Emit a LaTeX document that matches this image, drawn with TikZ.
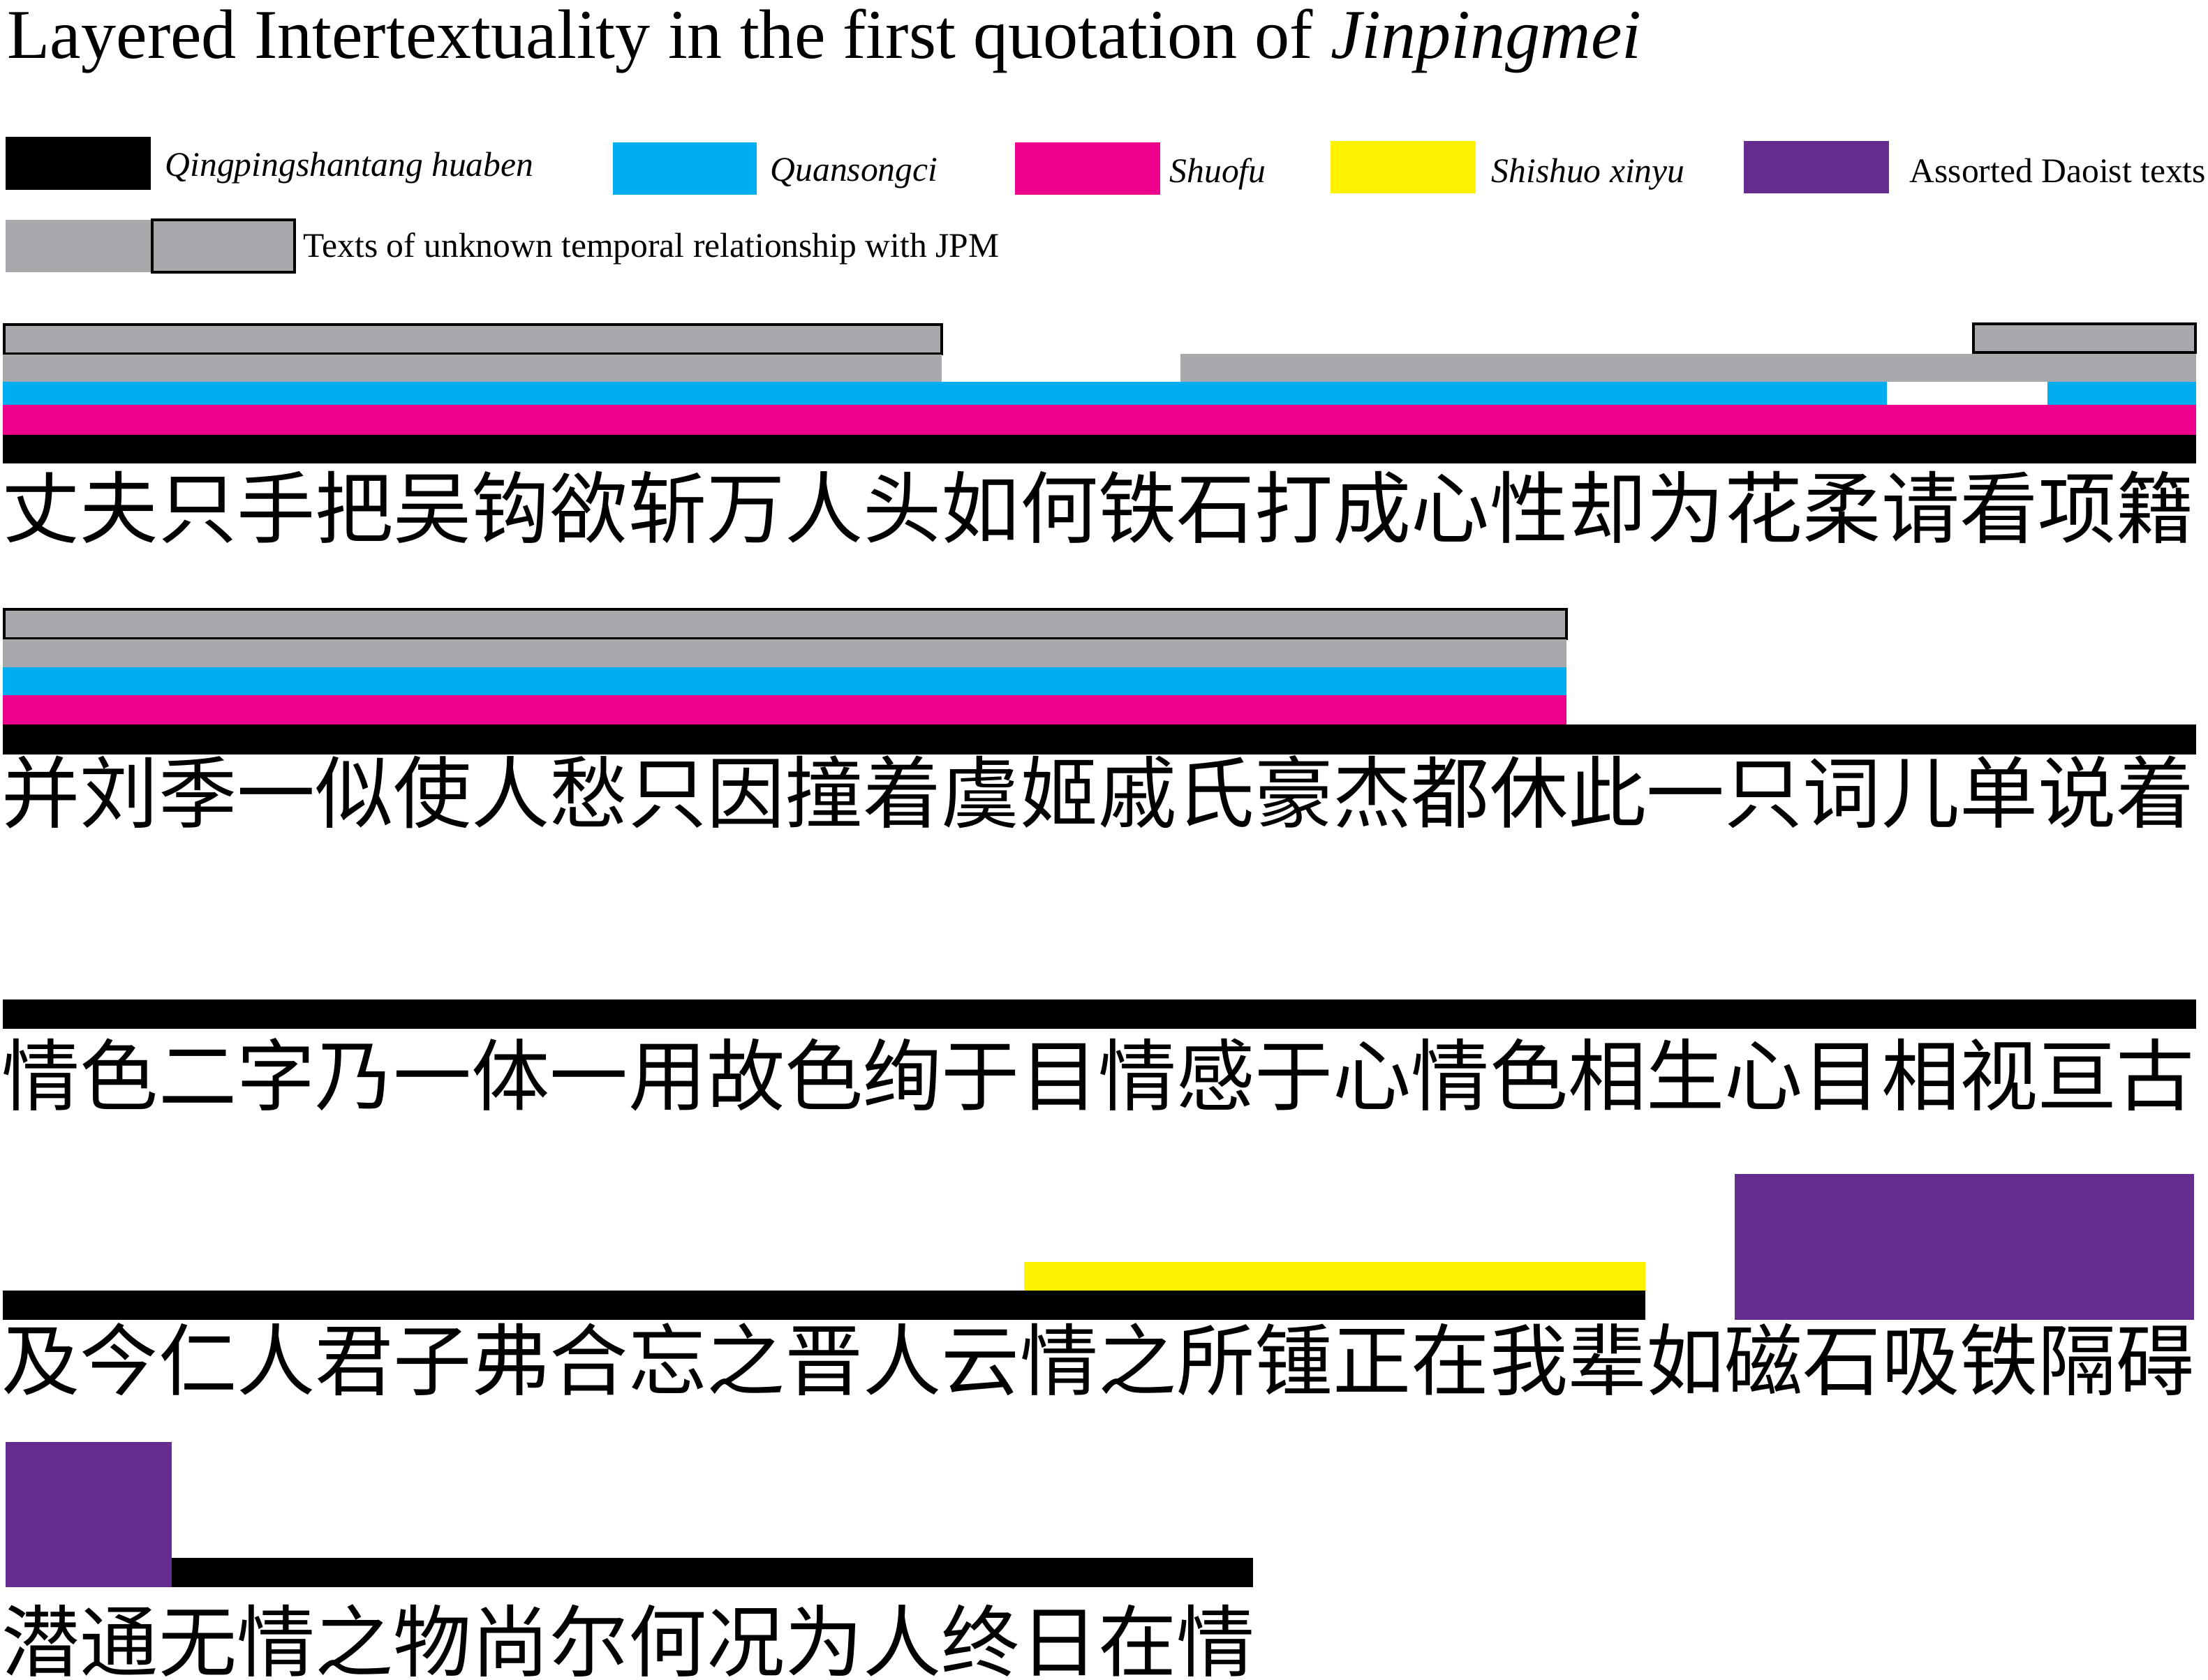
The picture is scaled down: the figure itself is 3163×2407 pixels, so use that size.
\documentclass[tikz,border=0pt]{standalone}
\usepackage{fontspec}
\setmainfont{Liberation Serif}
\newfontfamily\cjkfont{Noto Sans CJK SC}
\usepackage{tikz}
\definecolor{jpmGray}{RGB}{167,169,172}
\definecolor{jpmCyan}{RGB}{0,174,239}
\definecolor{jpmMagenta}{RGB}{236,0,140}
\definecolor{jpmYellow}{RGB}{255,242,0}
\definecolor{jpmPurple}{RGB}{102,45,145}

\begin{document}
\begin{tikzpicture}[
  x=0.01cm, y=-0.01cm,
  %% Plain coloured layer (1-arg: colour)
  layer/.style={fill=#1, draw=none},
  %% Grey layer with black frame (unknown dating)
  framed/.style={fill=jpmGray, draw=black, line width=1.3pt},
  %% Legend captions
  legtext/.style={anchor=base west, inner sep=0pt,
    font=\fontsize{14.1}{17}\selectfont},
  %% Quotation lines
  quote/.style={anchor=base west, inner sep=0pt,
    font=\fontsize{31.9}{38}\selectfont\cjkfont}
]
\useasboundingbox (0,0) rectangle (3163,2407);

%% ---- Title ----
\node[anchor=base west, inner sep=0pt, font=\fontsize{28.5}{34}\selectfont]
  (title) at (10,84)
  {Layered Intertextuality in the first quotation of \textit{Jinpingmei}};

%% ---- Legend ----
\fill[layer=black]      (8,196)    rectangle (216,272);
\fill[layer=jpmCyan]    (878,204)  rectangle (1084,279);
\fill[layer=jpmMagenta] (1454,204) rectangle (1662,279);
\fill[layer=jpmYellow]  (1906,202) rectangle (2114,277);
\fill[layer=jpmPurple]  (2498,202) rectangle (2706,277);
\fill[layer=jpmGray]    (8,315)    rectangle (216,390);
\filldraw[framed]       (218,315)  rectangle (422,390);

\node[legtext] (lgQing)  at (236,253)  {\textit{Qingpingshantang huaben}};
\node[legtext] (lgQuan)  at (1103,260) {\textit{Quansongci}};
\node[legtext] (lgShuo)  at (1675,262) {\textit{Shuofu}};
\node[legtext] (lgShi)   at (2136,262) {\textit{Shishuo xinyu}};
\node[legtext] (lgDao)   at (2735,262) {Assorted Daoist texts};
\node[legtext] (lgUnkn)  at (434,369)  {Texts of unknown temporal relationship with JPM};

%% ---- Line 1 layers ----
\filldraw[framed]       (6,465)    rectangle (1349,507);
\filldraw[framed]       (2827,464) rectangle (3145,505);
\fill[layer=jpmGray]    (4,508)    rectangle (1349,547);
\fill[layer=jpmGray]    (1691,507) rectangle (3146,547);
\fill[layer=jpmCyan]    (4,547)    rectangle (2703,580);
\fill[layer=jpmCyan]    (2933,547) rectangle (3146,580);
\fill[layer=jpmMagenta] (4,580)    rectangle (3146,623);
\fill[layer=black]      (4,623)    rectangle (3146,664);

%% ---- Line 2 layers ----
\filldraw[framed]       (6,873)    rectangle (2244,915);
\fill[layer=jpmGray]    (4,916)    rectangle (2244,956);
\fill[layer=jpmCyan]    (4,956)    rectangle (2244,996);
\fill[layer=jpmMagenta] (4,996)    rectangle (2244,1038);
\fill[layer=black]      (4,1038)   rectangle (3146,1081);

%% ---- Line 3 layers ----
\fill[layer=black]      (4,1432)   rectangle (3146,1474);

%% ---- Line 4 layers ----
\fill[layer=jpmYellow]  (1467,1808) rectangle (2357,1849);
\fill[layer=black]      (4,1849)    rectangle (2357,1891);
\fill[layer=jpmPurple]  (2485,1682) rectangle (3143,1891);

%% ---- Line 5 layers ----
\fill[layer=jpmPurple]  (8,2066)   rectangle (246,2274);
\fill[layer=black]      (246,2232) rectangle (1795,2274);

%% ---- Quotation text ----
\node[quote] (q1) at (2,770)
  {丈夫只手把吴钩欲斩万人头如何铁石打成心性却为花柔请看项籍};
\node[quote] (q2) at (2,1178)
  {并刘季一似使人愁只因撞着虞姬戚氏豪杰都休此一只词儿单说着};
\node[quote] (q3) at (2,1582)
  {情色二字乃一体一用故色绚于目情感于心情色相生心目相视亘古};
\node[quote] (q4) at (2,1990)
  {及今仁人君子弗合忘之晋人云情之所锺正在我辈如磁石吸铁隔碍};
\node[quote] (q5) at (2,2393)
  {潜通无情之物尚尔何况为人终日在情};

\end{tikzpicture}
\end{document}
